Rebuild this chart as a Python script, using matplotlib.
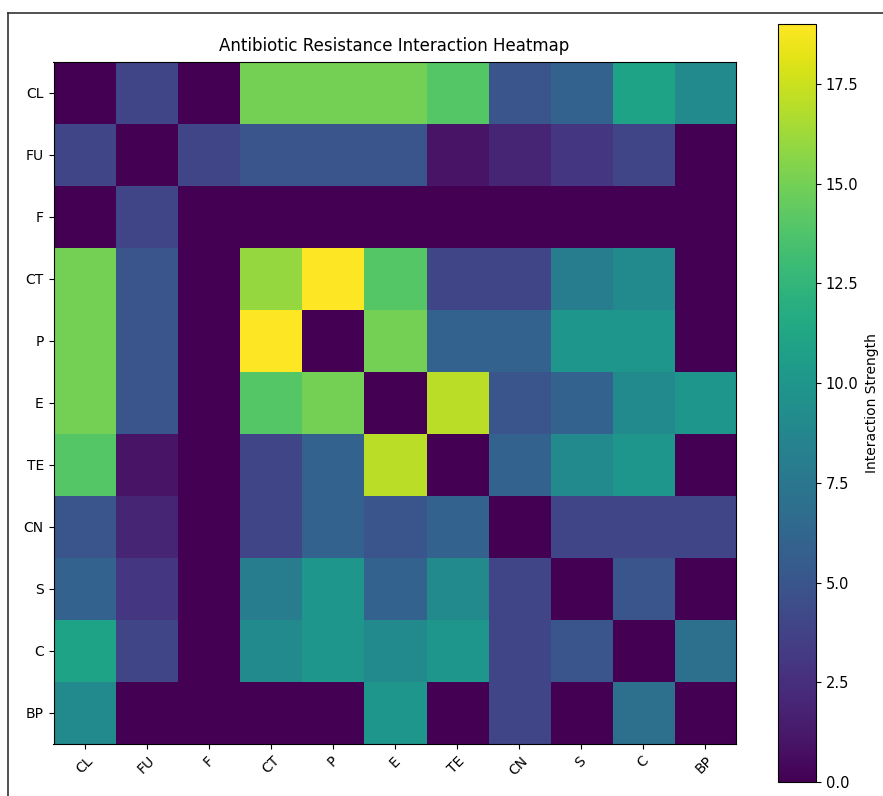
import matplotlib
matplotlib.use("Agg")
import matplotlib.pyplot as plt
from matplotlib.lines import Line2D
import numpy as np

# antibioticos y matriz de interaccion
labels = ['CL', 'FU', 'F', 'CT', 'P', 'E', 'TE', 'CN', 'S', 'C', 'BP']
row_CL = [0, 4, 0, 15, 15, 15, 14, 5, 6, 11, 9]
row_FU = [4, 0, 4, 5, 5, 5, 1, 2, 3, 4, 0]
row_F = [0, 4, 0, 0, 0, 0, 0, 0, 0, 0, 0]
row_CT = [15, 5, 0, 16, 19, 14, 4, 4, 8, 9, 0]
row_P = [15, 5, 0, 19, 0, 15, 6, 6, 10, 10, 0]
row_E = [15, 5, 0, 14, 15, 0, 17, 5, 6, 9, 10]
row_TE = [14, 1, 0, 4, 6, 17, 0, 6, 9, 10, 0]
row_CN = [5, 2, 0, 4, 6, 5, 6, 0, 4, 4, 4]
row_S = [6, 3, 0, 8, 10, 6, 9, 4, 0, 5, 0]
row_C = [11, 4, 0, 9, 10, 9, 10, 4, 5, 0, 7]
row_BP = [9, 0, 0, 0, 0, 10, 0, 4, 0, 7, 0]

matriz = np.array([row_CL, row_FU, row_F, row_CT, row_P, row_E,
                   row_TE, row_CN, row_S, row_C, row_BP])

W, H = 883, 796
fig = plt.figure(figsize=(W / 100, H / 100), dpi=100)
ax = fig.add_axes([53.5 / W, 1 - 744 / H, 682 / W, 682 / H])
cax = fig.add_axes([778 / W, 1 - 782 / H, 38 / W, 758 / H])

im = ax.imshow(matriz, cmap='viridis', aspect='auto')
ax.set_xticks(range(len(labels)))
ax.set_xticklabels(labels, rotation=45)
ax.set_yticks(range(len(labels)))
ax.set_yticklabels(labels)
ax.set_title("Antibiotic Resistance Interaction Heatmap", fontsize=12, pad=8)

cb = fig.colorbar(im, cax=cax)
cb.set_label("Interaction Strength", labelpad=5)
cb.ax.tick_params(labelsize=10.5)

# marco de la captura
fig.add_artist(Line2D([8 / W, 8 / W], [0, 1 - 13 / H], transform=fig.transFigure,
                      color='#333333', lw=1.2))
fig.add_artist(Line2D([8 / W, 1], [1 - 13 / H, 1 - 13 / H], transform=fig.transFigure,
                      color='#333333', lw=1.2))

fig.savefig("out.png", dpi=100)
